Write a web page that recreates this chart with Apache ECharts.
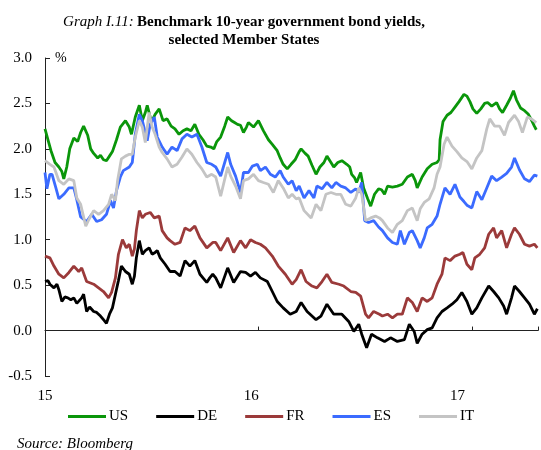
<!DOCTYPE html>
<html>
<head>
<meta charset="utf-8">
<script src="https://cdn.jsdelivr.net/npm/echarts@6/dist/echarts.min.js"></script>
<style>html,body{margin:0;padding:0;background:#fff}#c{width:541px;height:450px}</style>
</head>
<body>
<div id="c"></div>
<script>
// x = years since 1 Jan 2015, y = yield in %
const US = [[0,2.22],[0.014,2.10],[0.028,1.98],[0.047,1.85],[0.065,1.80],[0.079,1.75],[0.088,1.67],[0.102,1.80],[0.116,2.00],[0.135,2.12],[0.153,2.08],[0.167,2.18],[0.181,2.25],[0.2,2.15],[0.214,2.00],[0.228,1.95],[0.247,1.90],[0.26,1.93],[0.274,1.88],[0.288,1.87],[0.302,1.92],[0.316,1.97],[0.335,2.10],[0.353,2.24],[0.377,2.31],[0.395,2.24],[0.405,2.16],[0.423,2.35],[0.442,2.48],[0.456,2.31],[0.47,2.40],[0.479,2.48],[0.493,2.35],[0.502,2.31],[0.516,2.38],[0.535,2.44],[0.553,2.31],[0.572,2.33],[0.591,2.25],[0.609,2.22],[0.628,2.16],[0.647,2.20],[0.665,2.22],[0.684,2.20],[0.702,2.27],[0.721,2.16],[0.74,2.10],[0.758,2.03],[0.777,2.02],[0.791,2.00],[0.805,2.08],[0.823,2.13],[0.842,2.25],[0.856,2.35],[0.874,2.31],[0.888,2.29],[0.902,2.27],[0.916,2.26],[0.93,2.18],[0.944,2.24],[0.953,2.29],[0.977,2.24],[1.0,2.31],[1.023,2.20],[1.047,2.10],[1.065,2.05],[1.088,1.98],[1.102,1.90],[1.116,1.83],[1.135,1.78],[1.153,1.83],[1.172,1.88],[1.191,1.97],[1.2,2.00],[1.219,1.95],[1.233,1.92],[1.251,1.82],[1.27,1.72],[1.288,1.80],[1.307,1.85],[1.321,1.92],[1.34,1.85],[1.353,1.80],[1.372,1.85],[1.391,1.87],[1.414,1.83],[1.428,1.80],[1.437,1.72],[1.451,1.68],[1.46,1.63],[1.479,1.74],[1.493,1.57],[1.512,1.45],[1.526,1.37],[1.544,1.50],[1.563,1.56],[1.577,1.55],[1.591,1.50],[1.605,1.59],[1.628,1.58],[1.651,1.59],[1.674,1.61],[1.698,1.69],[1.721,1.72],[1.735,1.65],[1.744,1.57],[1.767,1.69],[1.791,1.78],[1.814,1.83],[1.837,1.85],[1.847,1.88],[1.851,2.10],[1.865,2.30],[1.884,2.37],[1.902,2.40],[1.921,2.46],[1.94,2.52],[1.963,2.60],[1.977,2.58],[1.991,2.52],[2.005,2.44],[2.023,2.39],[2.042,2.44],[2.06,2.50],[2.074,2.51],[2.093,2.47],[2.116,2.51],[2.13,2.44],[2.144,2.40],[2.163,2.48],[2.181,2.56],[2.195,2.64],[2.209,2.54],[2.228,2.45],[2.247,2.42],[2.265,2.38],[2.279,2.32],[2.293,2.25],[2.302,2.21]];

const DE = [[0,0.54],[0.014,0.55],[0.023,0.51],[0.042,0.47],[0.056,0.51],[0.065,0.45],[0.079,0.32],[0.093,0.37],[0.107,0.36],[0.121,0.34],[0.135,0.36],[0.149,0.30],[0.158,0.32],[0.172,0.36],[0.181,0.40],[0.195,0.21],[0.209,0.26],[0.228,0.21],[0.242,0.20],[0.26,0.16],[0.274,0.12],[0.288,0.08],[0.302,0.18],[0.316,0.25],[0.33,0.40],[0.344,0.55],[0.358,0.71],[0.377,0.65],[0.395,0.62],[0.409,0.51],[0.419,0.60],[0.428,0.80],[0.442,0.99],[0.456,0.84],[0.47,0.88],[0.488,0.91],[0.502,0.84],[0.516,0.86],[0.526,0.88],[0.54,0.80],[0.563,0.73],[0.586,0.65],[0.609,0.65],[0.633,0.60],[0.656,0.77],[0.679,0.71],[0.702,0.77],[0.726,0.62],[0.744,0.57],[0.758,0.53],[0.772,0.58],[0.786,0.62],[0.8,0.58],[0.823,0.47],[0.856,0.69],[0.884,0.53],[0.916,0.65],[0.94,0.64],[0.963,0.60],[0.986,0.64],[1.009,0.58],[1.042,0.54],[1.065,0.43],[1.088,0.32],[1.116,0.25],[1.149,0.18],[1.177,0.21],[1.2,0.31],[1.228,0.21],[1.27,0.12],[1.293,0.16],[1.321,0.29],[1.353,0.18],[1.391,0.18],[1.423,0.10],[1.447,-0.01],[1.47,0.07],[1.484,-0.04],[1.507,-0.19],[1.53,-0.04],[1.558,-0.08],[1.591,-0.12],[1.619,-0.08],[1.651,-0.12],[1.684,-0.10],[1.707,0.07],[1.73,-0.01],[1.744,-0.14],[1.767,-0.04],[1.791,0.01],[1.814,0.03],[1.837,0.14],[1.86,0.21],[1.884,0.25],[1.907,0.29],[1.93,0.34],[1.953,0.42],[1.977,0.32],[2.0,0.18],[2.023,0.25],[2.047,0.36],[2.079,0.49],[2.102,0.43],[2.126,0.36],[2.149,0.27],[2.163,0.18],[2.186,0.36],[2.2,0.49],[2.223,0.43],[2.247,0.36],[2.27,0.29],[2.293,0.18],[2.307,0.24]];

const FR = [[0,0.82],[0.023,0.80],[0.042,0.71],[0.065,0.62],[0.088,0.58],[0.112,0.64],[0.135,0.71],[0.158,0.65],[0.172,0.69],[0.195,0.54],[0.228,0.51],[0.251,0.47],[0.274,0.43],[0.298,0.36],[0.312,0.42],[0.33,0.58],[0.344,0.84],[0.363,1.00],[0.381,0.91],[0.395,0.95],[0.409,0.82],[0.419,0.90],[0.428,1.10],[0.442,1.32],[0.456,1.24],[0.47,1.28],[0.493,1.30],[0.512,1.24],[0.535,1.26],[0.549,1.10],[0.572,1.02],[0.586,0.99],[0.609,0.95],[0.633,0.97],[0.656,1.13],[0.679,1.10],[0.702,1.15],[0.726,1.02],[0.758,0.91],[0.786,0.97],[0.8,0.97],[0.823,0.88],[0.856,1.02],[0.884,0.86],[0.916,0.99],[0.94,0.91],[0.963,1.00],[0.986,0.97],[1.009,0.95],[1.033,0.91],[1.065,0.82],[1.093,0.71],[1.126,0.62],[1.158,0.51],[1.177,0.56],[1.2,0.67],[1.223,0.54],[1.251,0.49],[1.274,0.47],[1.298,0.54],[1.321,0.62],[1.344,0.53],[1.377,0.51],[1.4,0.49],[1.433,0.43],[1.456,0.42],[1.479,0.38],[1.502,0.18],[1.516,0.14],[1.54,0.21],[1.567,0.18],[1.581,0.16],[1.605,0.18],[1.628,0.14],[1.651,0.18],[1.674,0.18],[1.698,0.36],[1.721,0.31],[1.744,0.21],[1.767,0.36],[1.791,0.32],[1.814,0.36],[1.837,0.51],[1.86,0.62],[1.874,0.80],[1.898,0.77],[1.921,0.82],[1.944,0.84],[1.958,0.86],[1.977,0.73],[2.0,0.67],[2.014,0.80],[2.037,0.84],[2.06,0.91],[2.079,1.06],[2.102,1.13],[2.116,1.02],[2.14,1.10],[2.163,0.91],[2.186,1.06],[2.2,1.13],[2.223,1.06],[2.247,0.95],[2.27,0.93],[2.293,0.95],[2.307,0.91]];

const ES = [[0,1.74],[0.009,1.56],[0.023,1.72],[0.033,1.72],[0.051,1.57],[0.065,1.45],[0.088,1.50],[0.112,1.57],[0.135,1.57],[0.149,1.44],[0.167,1.25],[0.195,1.20],[0.219,1.28],[0.242,1.20],[0.265,1.22],[0.288,1.28],[0.307,1.43],[0.321,1.35],[0.335,1.54],[0.353,1.69],[0.367,1.76],[0.395,1.80],[0.409,1.85],[0.423,2.16],[0.442,2.38],[0.456,2.31],[0.479,2.09],[0.493,2.27],[0.512,2.35],[0.526,2.13],[0.549,2.02],[0.572,1.94],[0.595,2.02],[0.619,1.98],[0.642,2.11],[0.665,2.16],[0.688,2.13],[0.712,2.16],[0.735,2.02],[0.758,1.85],[0.781,1.83],[0.8,1.80],[0.823,1.70],[0.856,1.96],[0.87,1.83],[0.893,1.70],[0.916,1.52],[0.93,1.74],[0.953,1.74],[0.972,1.81],[0.995,1.83],[1.009,1.76],[1.033,1.80],[1.056,1.72],[1.079,1.69],[1.102,1.76],[1.116,1.69],[1.14,1.61],[1.158,1.65],[1.177,1.54],[1.191,1.59],[1.214,1.46],[1.237,1.54],[1.26,1.46],[1.274,1.59],[1.298,1.56],[1.321,1.63],[1.344,1.57],[1.363,1.63],[1.386,1.59],[1.409,1.57],[1.433,1.52],[1.456,1.56],[1.47,1.52],[1.484,1.63],[1.498,1.21],[1.516,1.19],[1.54,1.21],[1.563,1.14],[1.581,1.10],[1.605,1.02],[1.628,0.97],[1.651,0.95],[1.665,1.10],[1.684,0.95],[1.707,1.08],[1.721,1.10],[1.744,0.99],[1.758,0.91],[1.777,1.02],[1.791,1.13],[1.814,1.17],[1.837,1.26],[1.851,1.39],[1.874,1.57],[1.898,1.50],[1.921,1.61],[1.944,1.47],[1.963,1.42],[1.977,1.38],[2.0,1.35],[2.023,1.53],[2.047,1.44],[2.07,1.57],[2.093,1.70],[2.116,1.65],[2.14,1.69],[2.163,1.73],[2.186,1.80],[2.2,1.90],[2.223,1.77],[2.247,1.67],[2.27,1.64],[2.293,1.71],[2.307,1.70]];

const IT = [[0,1.87],[0.023,1.83],[0.042,1.80],[0.065,1.65],[0.088,1.61],[0.112,1.67],[0.135,1.65],[0.149,1.46],[0.167,1.39],[0.191,1.15],[0.205,1.22],[0.228,1.32],[0.251,1.28],[0.274,1.32],[0.298,1.39],[0.312,1.50],[0.33,1.43],[0.34,1.65],[0.358,1.89],[0.377,1.92],[0.395,1.94],[0.409,1.94],[0.423,2.13],[0.442,2.31],[0.456,2.24],[0.47,2.07],[0.488,2.40],[0.502,2.24],[0.516,2.16],[0.535,2.02],[0.549,1.96],[0.572,1.89],[0.595,1.80],[0.619,1.83],[0.642,1.91],[0.665,2.00],[0.688,1.94],[0.712,1.85],[0.735,1.78],[0.758,1.69],[0.781,1.72],[0.8,1.69],[0.823,1.48],[0.856,1.80],[0.87,1.70],[0.893,1.59],[0.916,1.45],[0.93,1.65],[0.953,1.67],[0.977,1.72],[1.0,1.65],[1.023,1.63],[1.047,1.61],[1.07,1.52],[1.093,1.65],[1.116,1.57],[1.14,1.46],[1.158,1.50],[1.177,1.45],[1.191,1.46],[1.214,1.32],[1.247,1.24],[1.27,1.39],[1.293,1.32],[1.316,1.50],[1.34,1.52],[1.363,1.50],[1.386,1.50],[1.409,1.39],[1.433,1.37],[1.456,1.46],[1.47,1.57],[1.484,1.50],[1.502,1.21],[1.526,1.24],[1.549,1.26],[1.567,1.24],[1.581,1.21],[1.605,1.13],[1.628,1.08],[1.651,1.17],[1.674,1.21],[1.698,1.32],[1.721,1.35],[1.744,1.21],[1.758,1.34],[1.777,1.41],[1.8,1.45],[1.823,1.57],[1.837,1.72],[1.851,1.80],[1.87,2.05],[1.884,2.13],[1.907,2.03],[1.93,1.97],[1.953,1.90],[1.977,1.86],[2.0,1.78],[2.023,1.90],[2.047,1.98],[2.07,2.22],[2.084,2.33],[2.107,2.25],[2.13,2.25],[2.153,2.15],[2.172,2.29],[2.2,2.37],[2.219,2.30],[2.237,2.18],[2.26,2.35],[2.279,2.33],[2.302,2.29]];

const NAMES = ['US', 'DE', 'FR', 'ES', 'IT'];
const DATA = [US, DE, FR, ES, IT];
const COLORS = ['#0a960a', '#000000', '#9b3a3a', '#3b6bff', '#c4c4c4'];
const YEAR_LABELS = ['15', '16', '17'];

const FONT = '"Liberation Serif", "Times New Roman", serif';
const chart = echarts.init(document.getElementById('c'), null, {renderer: 'canvas'});

const isInt = v => Math.abs(v - Math.round(v)) < 1e-6;

chart.setOption({
  animation: false,
  backgroundColor: '#fff',
  grid: {left: 45, right: 0, top: 58, bottom: 74, containLabel: false},
  xAxis: [
    {
      type: 'value', min: 0, max: 2.31, interval: 1, position: 'bottom',
      axisLine: {show: true, onZero: true, lineStyle: {color: '#222', width: 1}},
      axisTick: {show: true, inside: true, length: 4, lineStyle: {color: '#222'}},
      axisLabel: {show: false},
      splitLine: {show: false}
    },
    {
      type: 'value', min: 0, max: 2.39, interval: 1, position: 'bottom',
      axisLine: {show: false, onZero: false},
      axisTick: {show: false},
      splitLine: {show: false},
      axisLabel: {
        show: true, margin: 13, color: '#000', fontFamily: FONT, fontSize: 15,
        formatter: v => isInt(v) ? (YEAR_LABELS[Math.round(v)] || '') : ''
      }
    }
  ],
  yAxis: {
    type: 'value', min: -0.5, max: 3.0, interval: 0.5,
    axisLine: {show: true, lineStyle: {color: '#222', width: 1}},
    axisTick: {show: true, inside: true, length: 5, lineStyle: {color: '#222'}},
    axisLabel: {color: '#000', fontFamily: FONT, fontSize: 15, margin: 13, formatter: v => v.toFixed(1)},
    splitLine: {show: false}
  },
  legend: {
    data: NAMES, left: 68, top: 409, padding: 0, icon: 'rect', itemWidth: 38, itemHeight: 3, itemGap: 28,
    textStyle: {color: '#000', fontFamily: FONT, fontSize: 15, padding: [0, 0, 0, -2]}
  },
  graphic: [
    {type: 'text', style: {
      x: 244, y: 22, align: 'center', verticalAlign: 'middle',
      text: '{i|Graph I.11:} {b|Benchmark 10-year government bond yields,}',
      rich: {
        i: {fontFamily: FONT, fontStyle: 'italic', fontSize: 15, fill: '#000'},
        b: {fontFamily: FONT, fontWeight: 'bold', fontSize: 15, fill: '#000'}
      }
    }},
    {type: 'text', style: {x: 244, y: 40, align: 'center', verticalAlign: 'middle',
      text: 'selected Member States', font: 'bold 15px ' + FONT, fill: '#000'}},
    {type: 'text', style: {x: 55, y: 58, align: 'left', verticalAlign: 'middle',
      text: '%', font: '14px ' + FONT, fill: '#000'}},
    {type: 'text', style: {x: 17, y: 444, align: 'left', verticalAlign: 'middle',
      text: 'Source: Bloomberg', font: 'italic 15px ' + FONT, fill: '#000'}}
  ],
  series: NAMES.map((n, i) => ({
    name: n, type: 'line', xAxisIndex: 0, yAxisIndex: 0, data: DATA[i],
    showSymbol: false, symbol: 'none', smooth: false,
    lineStyle: {color: COLORS[i], width: 2.8}, itemStyle: {color: COLORS[i]}
  }))
});
</script>
</body>
</html>
